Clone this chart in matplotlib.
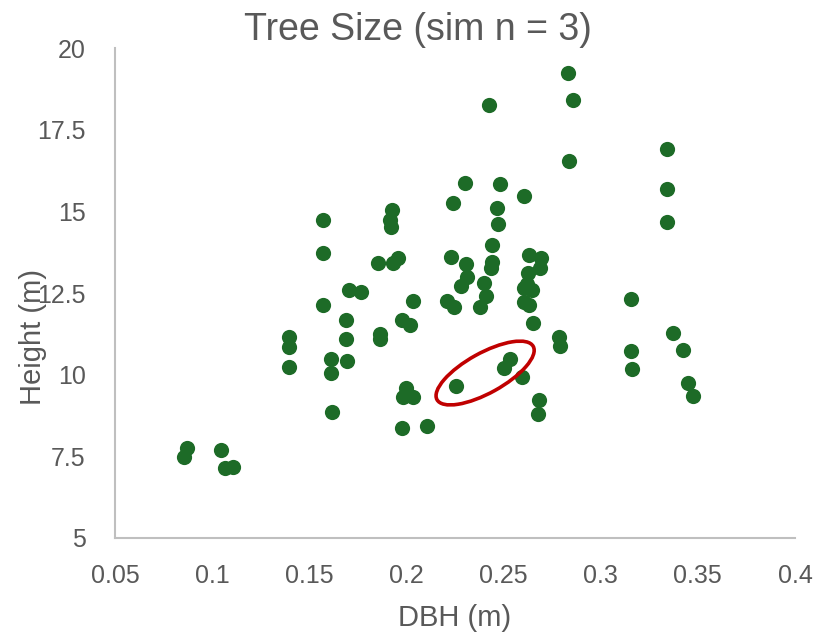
import matplotlib
matplotlib.use("Agg")
import matplotlib.pyplot as plt
from matplotlib.patches import Ellipse
from matplotlib.transforms import ScaledTranslation

# DBH (m) and height (m)
dbh = [
    0.157, 0.157, 0.1925, 0.1916, 0.1921, 0.1853, 0.1933, 0.1957, 0.1705, 0.1767,
    0.2831, 0.2855, 0.2424, 0.2836, 0.3342, 0.3339, 0.3339, 0.2304, 0.2481, 0.2242,
    0.2606, 0.2466, 0.2469, 0.2441, 0.2232, 0.2307, 0.2311, 0.2282, 0.2440, 0.2436,
    0.2399, 0.2632, 0.2692, 0.2685, 0.2625, 0.2620, 0.2603, 0.2646, 0.2603, 0.2632,
    0.157, 0.169, 0.169, 0.1865, 0.1865, 0.1398, 0.1398, 0.1398, 0.1614, 0.1614,
    0.1695, 0.1616, 0.0869, 0.0857, 0.1047, 0.1066, 0.1109, 0.2035, 0.1976, 0.2019,
    0.2208, 0.2246, 0.2380, 0.2410, 0.2651, 0.2785, 0.2788, 0.2534, 0.2500, 0.2597,
    0.2254, 0.1997, 0.1982, 0.2036, 0.1978, 0.2108, 0.2680, 0.2677, 0.3154, 0.3154,
    0.3161, 0.3372, 0.3423, 0.3451, 0.3473,
]
height = [
    14.72, 13.73, 15.04, 14.73, 14.53, 13.42, 13.42, 13.57, 12.59, 12.53,
    19.22, 18.42, 18.26, 16.55, 16.90, 15.68, 14.66, 15.86, 15.85, 15.25,
    15.47, 15.09, 14.61, 13.96, 13.59, 13.38, 13.00, 12.71, 13.44, 13.28,
    12.82, 13.67, 13.58, 13.28, 13.10, 12.79, 12.64, 12.59, 12.23, 12.13,
    12.13, 11.67, 11.09, 11.24, 11.09, 11.16, 10.85, 10.24, 10.47, 10.06,
    10.41, 8.86, 7.74, 7.49, 7.69, 7.13, 7.18, 12.26, 11.67, 11.52,
    12.26, 12.06, 12.08, 12.40, 11.59, 11.16, 10.88, 10.47, 10.19, 9.94,
    9.65, 9.58, 9.31, 9.31, 8.36, 8.43, 9.22, 8.79, 12.32, 10.71,
    10.16, 11.28, 10.74, 9.73, 9.35,
]

# highlighted group (red ellipse)
highlight_center = (0.2405, 10.05)

x_ticks = [0.05, 0.1, 0.15, 0.2, 0.25, 0.3, 0.35, 0.4]
x_labels = ["0.05", "0.1", "0.15", "0.2", "0.25", "0.3", "0.35", "0.4"]
y_ticks = [5, 7.5, 10, 12.5, 15, 17.5, 20]
y_labels = ["5", "7.5", "10", "12.5", "15", "17.5", "20"]

plt.rcParams["font.family"] = ["Liberation Sans", "DejaVu Sans"]
text_col = "#595959"

fig = plt.figure(figsize=(8.23, 6.36), dpi=100)
ax = fig.add_axes([0.1397, 0.1541, 0.8263, 0.7704])

ax.scatter(dbh, height, s=120, color="#1D6B27", linewidths=0, zorder=3)

ax.set_xlim(0.05, 0.4)
ax.set_ylim(5, 20)
ax.set_xticks(x_ticks)
ax.set_xticklabels(x_labels)
ax.set_yticks(y_ticks)
ax.set_yticklabels(y_labels)
ax.tick_params(length=0, labelsize=18, colors=text_col)
ax.tick_params(axis="x", pad=19)
ax.tick_params(axis="y", pad=21)

for side in ["top", "right"]:
    ax.spines[side].set_visible(False)
for side in ["left", "bottom"]:
    ax.spines[side].set_color("#BFBFBF")
    ax.spines[side].set_linewidth(1.5)

# title is centred on the whole chart, not on the plot area
fig.text(0.508, 0.937, "Tree Size (sim n = 3)", fontsize=27, color=text_col,
         ha="center", va="baseline")
ax.set_xlabel("DBH (m)", fontsize=21, color=text_col)
ax.set_ylabel("Height (m)", fontsize=21, color=text_col)
ax.xaxis.set_label_coords(0.5, -0.135)
ax.yaxis.set_label_coords(-0.10, 0.41)

# ellipse sized in inches, centred on a data point
trans = fig.dpi_scale_trans + ScaledTranslation(*highlight_center, ax.transData)
ring = Ellipse((0, 0), 1.10, 0.40, angle=29, transform=trans,
               fill=False, edgecolor="#C00000", linewidth=2.6, zorder=4)
ax.add_patch(ring)

fig.savefig("out.png", dpi=100)
